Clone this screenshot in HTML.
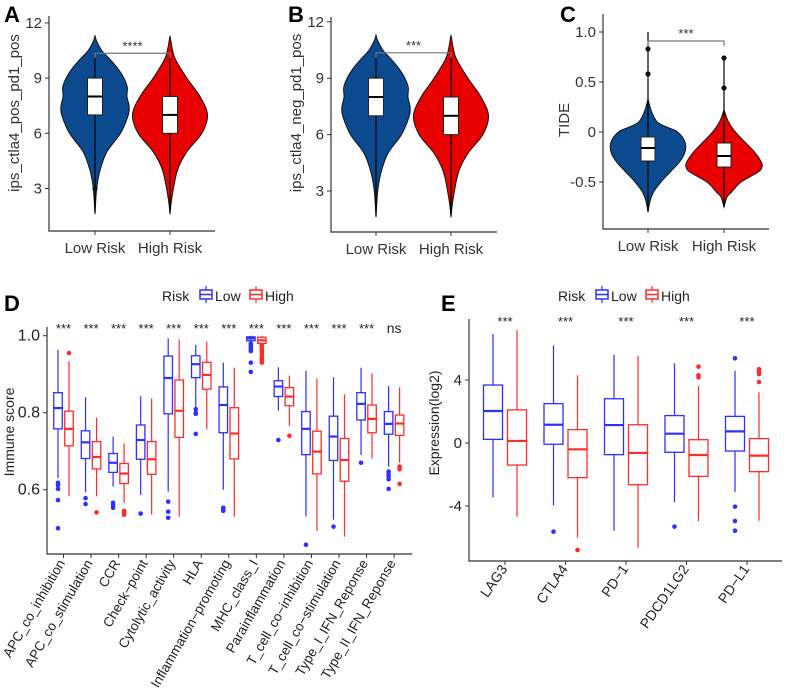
<!DOCTYPE html>
<html><head><meta charset="utf-8"><style>
body{margin:0;background:#fff}
svg{display:block;font-family:"Liberation Sans",Arial,sans-serif}
</style></head><body>
<svg id="fig" width="786" height="696" viewBox="0 0 786 696"></svg>
<script>
// ---------- Panel A/B violin data ----------
const abCats = ["Low Risk","High Risk"];
const abTicks = [3,6,9,12];
const abLowDensY = [1.6,3,4,5,6,7,7.5,8,8.5,9,9.5,10,10.5,11,11.3];
const abLowDensW = [0,0.05,0.15,0.35,0.75,0.98,1.0,0.94,0.95,0.85,0.68,0.45,0.2,0.05,0];
const abHighDensY = [1.6,2.5,4,5,6,7,8,9,10,10.5,11.3];
const abHighDensW = [0,0.05,0.2,0.45,0.85,1.0,0.8,0.45,0.15,0.07,0];
const abLowBox = [1.7,7,8,9,10.2];   // whiskerLow,q1,med,q3,whiskerHigh
const abHighBox = [1.7,6,7,8,10.3];
const aLowOut = [3.0];
const abBracket = 10.35;
// ---------- Panel C ----------
const cTicks = [-0.5,0,0.5,1.0];
const cTickLabels = ["-0.5","0","0.5","1.0"];
const cLowDensY = [-0.8,-0.7,-0.6,-0.5,-0.4,-0.3,-0.2,-0.1,0,0.05,0.1,0.2,0.3,0.32];
const cLowDensW = [0,0.05,0.15,0.35,0.6,0.85,1.0,1.0,0.8,0.5,0.25,0.1,0.02,0];
const cHighDensY = [-0.75,-0.65,-0.6,-0.5,-0.4,-0.35,-0.3,-0.2,-0.1,0,0.1,0.2,0.22];
const cHighDensW = [0,0.08,0.2,0.45,0.9,1.0,0.98,0.8,0.55,0.3,0.12,0.02,0];
const cLowBox = [-0.8,-0.29,-0.16,-0.05,1.0];
const cHighBox = [-0.75,-0.35,-0.24,-0.11,0.72];
const cLowOut = [0.83,0.58];
const cHighOut = [0.74,0.44];
const cBracket = 0.91;
// ---------- Panel D ----------
const dCats = ["APC_co_inhibition","APC_co_stimulation","CCR","Check\u2212point","Cytolytic_activity","HLA","Inflammation\u2212promoting","MHC_class_I","Parainflammation","T_cell_co\u2212inhibition","T_cell_co\u2212stimulation","Type_I_IFN_Reponse","Type_II_IFN_Reponse"];
const dSig = ["***","***","***","***","***","***","***","***","***","***","***","***","ns"];
const dTicks = [0.6,0.8,1.0];
const dTickLabels = ["0.6","0.8","1.0"];
// [wlo,q1,med,q3,whi]
const dLow = [[0.63,0.758,0.812,0.852,0.963],[0.593,0.681,0.723,0.753,0.84],[0.608,0.645,0.670,0.694,0.738],[0.586,0.679,0.729,0.768,0.843],[0.595,0.797,0.89,0.947,0.993],[0.815,0.891,0.926,0.948,0.976],[0.60,0.748,0.82,0.867,0.93],[0.985,0.987,0.993,0.997,1.0],[0.805,0.842,0.868,0.883,0.918],[0.53,0.691,0.758,0.803,0.909],[0.522,0.676,0.738,0.791,0.892],[0.69,0.781,0.823,0.852,0.917],[0.66,0.744,0.771,0.803,0.869]];
const dHigh = [[0.583,0.714,0.758,0.804,0.934],[0.583,0.654,0.685,0.725,0.787],[0.565,0.616,0.642,0.668,0.72],[0.535,0.64,0.679,0.725,0.837],[0.53,0.736,0.805,0.885,0.99],[0.757,0.861,0.898,0.931,0.985],[0.53,0.68,0.746,0.813,0.917],[0.975,0.98,0.988,0.996,1.0],[0.766,0.818,0.842,0.865,0.896],[0.493,0.641,0.699,0.752,0.889],[0.478,0.622,0.677,0.733,0.848],[0.681,0.748,0.784,0.82,0.902],[0.67,0.741,0.772,0.794,0.866]];
const dLowOut = [[0.618,0.612,0.602,0.573,0.50],[0.578,0.563],[0.566,0.56,0.553],[0.538],[0.569,0.543,0.527],[0.809,0.80,0.797,0.745],[0.553,0.548,0.545],[0.98,0.975,0.97,0.965,0.96,0.93,0.906],[0.729],[0.457],[0.504],[0.67],[0.647,0.64,0.635,0.627,0.602]];
const dHighOut = [[0.955],[0.541],[0.545,0.54,0.535],[],[],[],[],[0.975,0.97,0.965,0.96,0.955,0.95,0.945,0.94,0.935,0.93],[0.74],[],[],[],[0.66,0.653,0.615]];
// ---------- Panel E ----------
const eCats = ["LAG3","CTLA4","PD\u22121","PDCD1LG2","PD\u2212L1"];
const eTicks = [-4,0,4];
const eTickLabels = ["-4","0","4"];
const eLow = [[-3.45,0.23,2.03,3.68,6.92],[-3.96,-0.08,1.16,2.5,6.2],[-5.57,-0.74,1.14,2.81,5.6],[-3.75,-0.59,0.59,1.74,5.06],[-3.11,-0.51,0.74,1.69,4.59]];
const eHigh = [[-4.68,-1.4,0.13,2.1,7.17],[-6.0,-2.2,-0.4,0.85,4.3],[-6.65,-2.65,-0.63,1.16,5.52],[-4.97,-2.12,-0.76,0.21,3.62],[-4.93,-1.82,-0.8,0.28,3.22]];
const eLowOut = [[],[-5.63],[],[-5.31],[5.38,-4.04,-4.95,-5.57]];
const eHighOut = [[],[-6.79],[],[4.85,4.3,4.17],[4.68,4.53,4.38,3.87]];

const NS="http://www.w3.org/2000/svg";
const svg=document.getElementById('fig');
function el(tag,attrs,parent,text){const e=document.createElementNS(NS,tag);for(const k in attrs)e.setAttribute(k,attrs[k]);if(text!==undefined)e.textContent=text;(parent||svg).appendChild(e);return e;}
function smooth(pts){let d="M"+pts[0][0]+","+pts[0][1];for(let i=0;i<pts.length-1;i++){const p0=pts[Math.max(0,i-1)],p1=pts[i],p2=pts[i+1],p3=pts[Math.min(pts.length-1,i+2)];const c1=[p1[0]+(p2[0]-p0[0])/6,p1[1]+(p2[1]-p0[1])/6];const c2=[p2[0]-(p3[0]-p1[0])/6,p2[1]-(p3[1]-p1[1])/6];d+=` C${c1[0]},${c1[1]} ${c2[0]},${c2[1]} ${p2[0]},${p2[1]}`;}return d;}

function violinPanel(o){
  const g=el('g',{},svg);
  
  
  const letter=el('text',{x:o.lx,y:o.ly,'font-size':22,'font-weight':'bold'},g,o.letter);
  
  const ax=el('path',{d:`M${o.x0},${o.yTop} V${o.xAxisY} H${o.xEnd}`,stroke:'#333',fill:'none','stroke-width':1.2},g);
  
  o.ticks.forEach((t,i)=>{const y=o.ys(t);el('line',{x1:o.x0-4,x2:o.x0,y1:y,y2:y,stroke:'#333'},g);
    const tl=el('text',{x:o.x0-7,y:y+5,'font-size':15,'text-anchor':'end',fill:'#333'},g,o.tickLabels[i]);
    });
  o.cx.forEach((cx,i)=>{el('line',{x1:cx,x2:cx,y1:o.xAxisY,y2:o.xAxisY+4,stroke:'#333'},g);
    const tl=el('text',{x:cx,y:o.xAxisY+22,'font-size':15,'text-anchor':'middle',fill:'#333'},g,o.cats[i]);
    });
  const yl=el('text',{x:0,y:0,'font-size':15,'text-anchor':'middle',fill:'#333',transform:`translate(${o.ylx},${o.yly}) rotate(-90)`},g,o.ylabel);
  
  o.violins.forEach((v,i)=>{
    const cx=o.cx[i];const left=[],right=[];
    for(let k=0;k<v.dy.length;k++){left.push([cx-v.dw[k]*v.hw,o.ys(v.dy[k])]);}
    for(let k=v.dy.length-1;k>=0;k--){right.push([cx+v.dw[k]*v.hw,o.ys(v.dy[k])]);}
    const p=el('path',{d:smooth(left)+" L"+smooth(right).slice(1)+"Z",fill:v.fill,stroke:'#111','stroke-width':1},g);
    
    const b=v.box;
    el('line',{x1:cx,x2:cx,y1:o.ys(b[0]),y2:o.ys(b[4]),stroke:'#000','stroke-width':1.2},g);
    const r=el('rect',{x:cx-o.bw/2,y:o.ys(b[3]),width:o.bw,height:o.ys(b[1])-o.ys(b[3]),fill:'#fff',stroke:'#222','stroke-width':1},g);
    
    el('line',{x1:cx-o.bw/2,x2:cx+o.bw/2,y1:o.ys(b[2]),y2:o.ys(b[2]),stroke:'#000','stroke-width':2},g);
    (v.out||[]).forEach(val=>{const c=el('circle',{cx:cx,cy:o.ys(val),r:2.6,fill:'#111'},g);});
  });
  const by=o.ys(o.bracket);
  const br=el('path',{d:`M${o.cx[0]},${by+5} V${by} H${o.cx[1]} V${by+5}`,stroke:'#777',fill:'none','stroke-width':1.2},g);
  
  const st=el('text',{x:(o.cx[0]+o.cx[1])/2,y:by-3,'font-size':13,'text-anchor':'middle',fill:'#333'},g,o.stars);
  
}
violinPanel({name:'panel-a',letter:'A',lx:4,ly:22,x0:49,xEnd:215,yTop:16,xAxisY:231,ys:v=>188.5-(v-3)*18.4,ticks:abTicks,tickLabels:abTicks.map(String),
  cx:[95,170],cats:abCats,ylabel:'ips_ctla4_pos_pd1_pos',ylx:19,yly:113,bw:15,bracket:abBracket,stars:'****',
  violins:[{name:'low-risk',dy:abLowDensY,dw:abLowDensW,hw:34,fill:'#0b4a8f',box:abLowBox,out:aLowOut},{name:'high-risk',dy:abHighDensY,dw:abHighDensW,hw:37.5,fill:'#e80000',box:abHighBox,out:[]}]});
violinPanel({name:'panel-b',letter:'B',lx:288,ly:22,x0:331,xEnd:497,yTop:17,xAxisY:232,ys:v=>191-(v-3)*18.8,ticks:abTicks,tickLabels:abTicks.map(String),
  cx:[376,451],cats:abCats,ylabel:'ips_ctla4_neg_pd1_pos',ylx:301,yly:113,bw:15,bracket:abBracket,stars:'***',
  violins:[{name:'low-risk',dy:abLowDensY,dw:abLowDensW,hw:34,fill:'#0b4a8f',box:abLowBox,out:[]},{name:'high-risk',dy:abHighDensY,dw:abHighDensW,hw:37.5,fill:'#e80000',box:abHighBox,out:[]}]});
violinPanel({name:'panel-c',letter:'C',lx:560,ly:22,x0:603,xEnd:769,yTop:14,xAxisY:229,ys:v=>132-v*100,ticks:cTicks,tickLabels:cTickLabels,
  cx:[648,724],cats:abCats,ylabel:'TIDE',ylx:569,yly:120,bw:14,bracket:cBracket,stars:'***',
  violins:[{name:'low-risk',dy:cLowDensY,dw:cLowDensW,hw:37,fill:'#0b4a8f',box:cLowBox,out:cLowOut},{name:'high-risk',dy:cHighDensY,dw:cHighDensW,hw:38,fill:'#e80000',box:cHighBox,out:cHighOut}]});

const BLUE='#2f2fff',RED='#ff2b2b';
function legend(g,x,y){
  el('text',{x:x,y:y,'font-size':14,fill:'#222'},g,'Risk');
  [[x+38,BLUE,'Low'],[x+88,RED,'High']].forEach(([lx,c,t])=>{
    const ic=el('g',{},g);
    el('line',{x1:lx+6,x2:lx+6,y1:y-15,y2:y+2,stroke:c,'stroke-width':1.2},ic);
    el('rect',{x:lx,y:y-11,width:12,height:9,fill:'#fff',stroke:c,'stroke-width':1.5},ic);
    el('line',{x1:lx,x2:lx+12,y1:y-6.5,y2:y-6.5,stroke:c,'stroke-width':1.5},ic);
    el('text',{x:lx+15,y:y,'font-size':14,fill:'#222'},ic,t);
  });
}
function boxPanel(o){
  const g=el('g',{},svg);
  
  
  const letter=el('text',{x:o.lx,y:o.ly,'font-size':22,'font-weight':'bold'},g,o.letter);
  
  legend(g,o.legX,o.legY);
  const ax=el('path',{d:`M${o.x0},${o.yTop} V${o.xAxisY} H${o.xEnd}`,stroke:'#333',fill:'none','stroke-width':1.2},g);
  
  o.ticks.forEach((t,i)=>{const y=o.ys(t);el('line',{x1:o.x0-4,x2:o.x0,y1:y,y2:y,stroke:'#333'},g);
    const tl=el('text',{x:o.x0-7,y:y+5,'font-size':o.tfs,'text-anchor':'end',fill:'#222'},g,o.tickLabels[i]);
    });
  const yl=el('text',{x:0,y:0,'font-size':14,'text-anchor':'middle',fill:'#222',transform:`translate(${o.ylx},${o.yly}) rotate(-90)`},g,o.ylabel);
  
  o.cats.forEach((c,i)=>{
    const cx=o.cx0+i*o.step;
    el('line',{x1:cx,x2:cx,y1:o.xAxisY,y2:o.xAxisY+4,stroke:'#333'},g);
    const tl=el('text',{x:0,y:0,'font-size':o.xfs,'text-anchor':'end',fill:'#222',transform:`translate(${cx+o.lbdx},${o.xAxisY+o.lbdy}) rotate(${o.rot})`},g,c);
    
    const s=el('text',{x:cx,y:o.starY,'font-size':o.sig[i]==='ns'?14:13,'text-anchor':'middle',fill:'#222'},g,o.sig[i]);
    
    [[o.low[i],o.lowOut[i],BLUE,-o.off,'low'],[o.high[i],o.highOut[i],RED,o.off,'high']].forEach(([b,out,col,dx,nm])=>{
      const bx=cx+dx;
      const bg=el('g',{},g);
      el('line',{x1:bx,x2:bx,y1:o.ys(b[0]),y2:o.ys(b[4]),stroke:col,'stroke-width':1.2},bg);
      el('rect',{x:bx-o.bw/2,y:o.ys(b[3]),width:o.bw,height:Math.max(0.5,o.ys(b[1])-o.ys(b[3])),fill:'#fff',stroke:col,'stroke-width':1.3},bg);
      el('line',{x1:bx-o.bw/2,x2:bx+o.bw/2,y1:o.ys(b[2]),y2:o.ys(b[2]),stroke:col,'stroke-width':2.2},bg);
      out.forEach(v=>{const c=el('circle',{cx:bx,cy:o.ys(v),r:2.3,fill:col},bg);});
    });
  });
}
boxPanel({name:'panel-d',letter:'D',lx:4,ly:311,legX:162,legY:301,x0:47,xEnd:412,yTop:327,xAxisY:554,ys:v=>335.7+(1-v)*385,
  ticks:dTicks,tickLabels:dTickLabels,tfs:16,ylabel:'Immune score',ylx:14,yly:432,cats:dCats,sig:dSig,cx0:63.5,step:27.55,off:5.5,bw:8.5,
  low:dLow,high:dHigh,lowOut:dLowOut,highOut:dHighOut,starY:333,xfs:13.5,rot:-60,lbdx:2,lbdy:9});
boxPanel({name:'panel-e',letter:'E',lx:441,ly:311,legX:558,legY:301,x0:469,xEnd:782,yTop:319,xAxisY:561,ys:v=>443-v*15.75,
  ticks:eTicks,tickLabels:eTickLabels,tfs:15,ylabel:'Expression(log2)',ylx:439,yly:423,cats:eCats,sig:eCats.map(()=>'***'),cx0:505,step:60.5,off:12,bw:19,
  low:eLow,high:eHigh,lowOut:eLowOut,highOut:eHighOut,starY:326,xfs:14,rot:-55,lbdx:3,lbdy:8});
</script>
</body></html>
